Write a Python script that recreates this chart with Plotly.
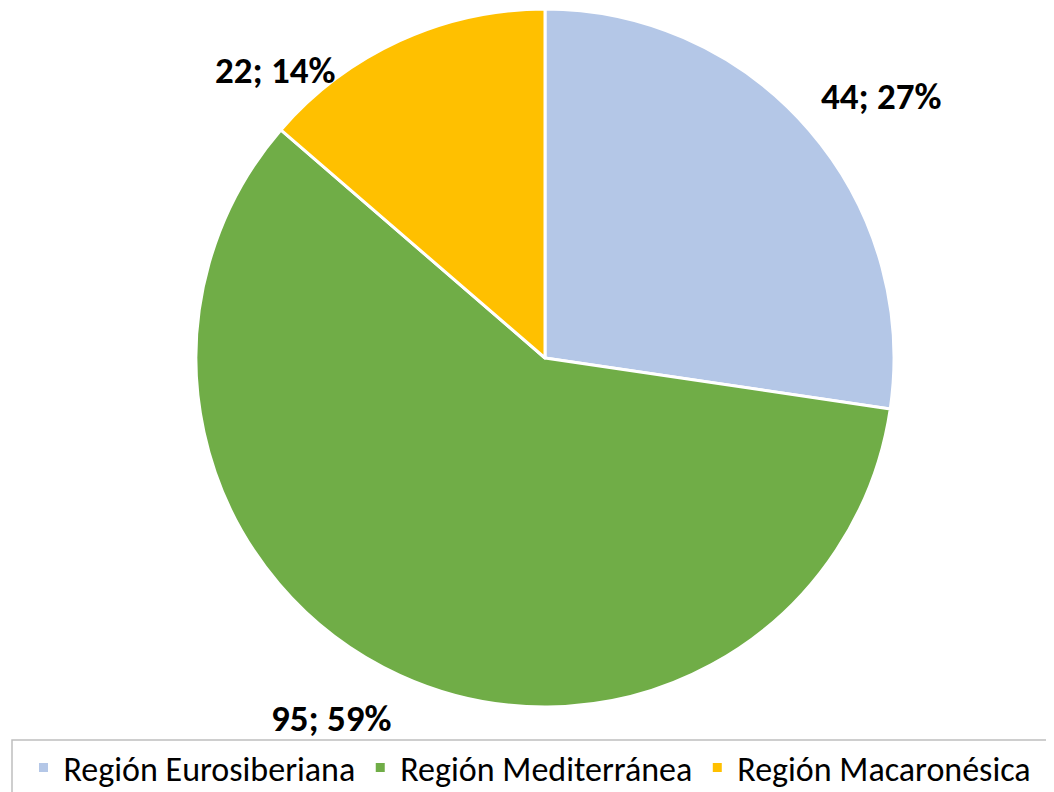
import numpy as np
import plotly.graph_objects as go

categories = ["Región Eurosiberiana", "Región Mediterránea", "Región Macaronésica"]
values = [44, 95, 22]
percent_labels = ["27%", "59%", "14%"]
colors = ["#B4C7E7", "#70AD47", "#FFC000"]

W, H = 1054, 792
OX, OY = 8, 8  # page offset compensation
cx, cy, R = 545, 358, 349  # screen pixel center / radius of pie


def px2x(px):
    return (px - OX) / W


def py2y(py):
    return 1 - (py - OY) / H


fig = go.Figure(go.Pie(
    labels=categories, values=values, sort=False, direction="clockwise",
    rotation=0, marker=dict(colors=colors, line=dict(color="white", width=3)),
    textinfo="none", hoverinfo="label+value+percent",
    domain=dict(x=[px2x(cx - R), px2x(cx + R)],
                y=[max(0, py2y(cy + R)), min(1, py2y(cy - R))]),
))

# label positions from slice mid-angles
vals = np.array(values, dtype=float)
cum = np.cumsum(vals) / vals.sum()
mids = cum - vals / vals.sum() / 2
factor = [1.22, 1.20, 1.13]
offset_deg = [3, 6, -18.5]
for i, (m, t) in enumerate(zip(mids, percent_labels)):
    ang = np.deg2rad(m * 360 + offset_deg[i])
    lx = cx + factor[i] * R * np.sin(ang)
    ly = cy - factor[i] * R * np.cos(ang)
    fig.add_annotation(x=px2x(lx), y=py2y(ly), xref="paper", yref="paper",
                       xanchor="center", yanchor="middle",
                       text=f"<b>{values[i]}; {t}</b>", showarrow=False,
                       font=dict(size=37, color="black", family="Carlito, Liberation Sans"))

fig.update_layout(
    width=W, height=H, margin=dict(l=0, r=0, t=0, b=0),
    paper_bgcolor="white", plot_bgcolor="white",
    showlegend=True,
    legend=dict(orientation="h", x=px2x(530), xanchor="center", y=py2y(768), yanchor="middle",
                font=dict(size=34, color="black", family="Carlito, Liberation Sans"),
                bgcolor="rgba(0,0,0,0)", itemwidth=30, traceorder="normal"),
)

fig.add_shape(type="rect", xref="paper", yref="paper", layer="above",
              x0=px2x(12), x1=1.02, y0=-0.02, y1=py2y(740),
              line=dict(color="#BFBFBF", width=1.5), fillcolor="rgba(0,0,0,0)")

fig.write_html("out.html")
